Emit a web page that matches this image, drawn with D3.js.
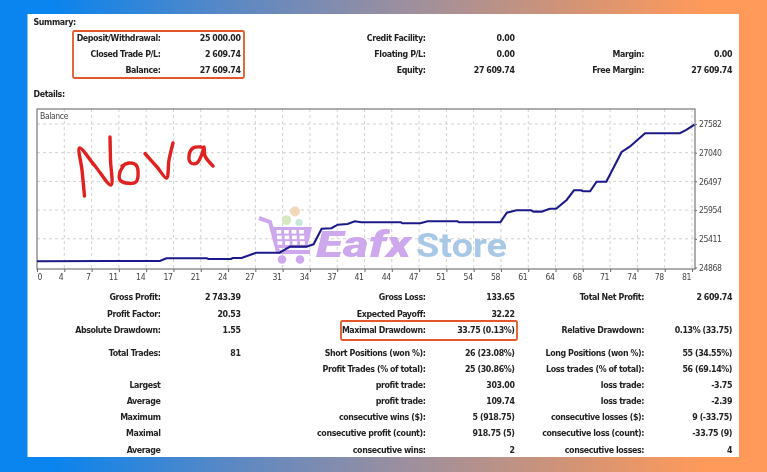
<!DOCTYPE html>
<html>
<head>
<meta charset="utf-8">
<script src="https://cdn.jsdelivr.net/npm/d3@7"></script>
<style>
  html, body { margin: 0; padding: 0; overflow: hidden; }
  body { width: 767px; height: 472px; background: linear-gradient(90deg, #0a84ee 7%, #5a88c4 30%, #9a8fa0 52%, #cc937a 72%, #ff9a5a 92%); }
  svg { display: block; filter: blur(0.35px); }
  text { font-family: "DejaVu Sans Condensed", "DejaVu Sans", sans-serif; fill: #222; }
  .stat { font-size: 8.8px; font-weight: bold; letter-spacing: -0.4px; dominant-baseline: central; }
  .tick-label { font-size: 8.6px; letter-spacing: -0.4px; fill: #444; }
</style>
</head>
<body>
<script>
// balance curve
var tradeNo = [0, 9, 15.2, 16, 21, 21.2, 24, 24.2, 25.3, 27.1, 30, 31.3, 33.3, 34.2, 35.2, 36.4, 37.2, 38.4, 39.3, 40.1, 45, 45.2, 47.4, 48.3, 52, 52.2, 57.3, 58.1, 59.3, 61.1, 61.4, 62.4, 63.4, 64.2, 65.5, 66.4, 67.3, 67.5, 68.4, 69.2, 70.4, 72.3, 73.3, 75.2, 79.5, 80.3, 81.3];
var balance = [24985, 24991, 24991, 25042, 25042, 25029, 25029, 25047, 25047, 25148, 25148, 25262, 25262, 25307, 25602, 25610, 25678, 25691, 25742, 25723, 25723, 25704, 25704, 25742, 25742, 25723, 25723, 25905, 25950, 25950, 25924, 25924, 25980, 25980, 26145, 26329, 26329, 26310, 26310, 26491, 26491, 27053, 27153, 27407, 27407, 27470, 27570];

var xTickLabels = ["0", "4", "7", "11", "14", "17", "21", "24", "27", "31", "34", "37", "41", "44", "47", "51", "54", "58", "61", "64", "68", "71", "74", "78", "81"];
var yTickValues = [24868, 25411, 25954, 26497, 27040, 27582];

var summaryRows = [
  ["Deposit/Withdrawal:", "25 000.00", "Credit Facility:", "0.00", "", ""],
  ["Closed Trade P/L:", "2 609.74", "Floating P/L:", "0.00", "Margin:", "0.00"],
  ["Balance:", "27 609.74", "Equity:", "27 609.74", "Free Margin:", "27 609.74"]
];
var summaryY = [38, 54, 70];

var detailRows = [
  ["Gross Profit:", "2 743.39", "Gross Loss:", "133.65", "Total Net Profit:", "2 609.74"],
  ["Profit Factor:", "20.53", "Expected Payoff:", "32.22", "", ""],
  ["Absolute Drawdown:", "1.55", "Maximal Drawdown:", "33.75 (0.13%)", "Relative Drawdown:", "0.13% (33.75)"],
  ["Total Trades:", "81", "Short Positions (won %):", "26 (23.08%)", "Long Positions (won %):", "55 (34.55%)"],
  ["", "", "Profit Trades (% of total):", "25 (30.86%)", "Loss trades (% of total):", "56 (69.14%)"],
  ["Largest", "", "profit trade:", "303.00", "loss trade:", "-3.75"],
  ["Average", "", "profit trade:", "109.74", "loss trade:", "-2.39"],
  ["Maximum", "", "consecutive wins ($):", "5 (918.75)", "consecutive losses ($):", "9 (-33.75)"],
  ["Maximal", "", "consecutive profit (count):", "918.75 (5)", "consecutive loss (count):", "-33.75 (9)"],
  ["Average", "", "consecutive wins:", "2", "consecutive losses:", "4"]
];
var detailY = [297.3, 313.7, 329.7, 353, 369.3, 385.3, 401.3, 417.3, 433.3, 449.7];

var columnRight = [160.5, 240.5, 425.5, 514.5, 644, 732];

// the handwritten "Nova" over the chart
var novaStrokes = [
  [[84.5, 196], [82, 170], [79.5, 148], [95, 166], [111, 185], [110.5, 160], [110, 137]],
  [[122, 166], [129, 163], [136, 165], [138, 176], [136, 182], [126, 183], [120, 180], [120, 172], [125, 164]],
  [[145, 153.5], [157, 167], [166.5, 178], [169, 160], [173, 143]],
  [[201, 147], [193, 148], [189, 156], [191, 163], [197, 163], [202, 154], [204, 147], [205, 156], [213, 166]]
];

var width = 767,
  height = 472;

var svg = d3
  .select("body")
  .append("svg")
  .attr("width", width)
  .attr("height", height);

// white report card
svg
  .append("rect")
  .attr("x", 27.5)
  .attr("y", 14)
  .attr("width", 711.5)
  .attr("height", 443)
  .attr("fill", "#fff");

var plot = { left: 37, right: 695, top: 109, bottom: 269 };

var x = d3.scaleLinear().domain([0, 81]).range([plot.left, 692]);
var xAxisScale = d3.scalePoint().domain(xTickLabels).range([plot.left, 692]);
var y = d3.scaleLinear().domain([24868, 27582]).range([267.5, 124]);

// grid
svg
  .append("g")
  .selectAll("line")
  .data(xTickLabels.slice(1))
  .enter()
  .append("line")
  .attr("x1", (d) => xAxisScale(d))
  .attr("x2", (d) => xAxisScale(d))
  .attr("y1", plot.top)
  .attr("y2", plot.bottom)
  .attr("stroke", "#d2d2d2")
  .attr("stroke-dasharray", "3,3");

svg
  .append("g")
  .selectAll("line")
  .data(yTickValues.slice(1))
  .enter()
  .append("line")
  .attr("x1", plot.left)
  .attr("x2", plot.right)
  .attr("y1", (d) => y(d))
  .attr("y2", (d) => y(d))
  .attr("stroke", "#d2d2d2")
  .attr("stroke-dasharray", "3,3");

// watermark logo
var logo = svg.append("g");
var purple = "#cda8ec";
logo.append("circle").attr("cx", 295).attr("cy", 211.5).attr("r", 5).attr("fill", "#f0d9b8");
logo.append("circle").attr("cx", 286.5).attr("cy", 220).attr("r", 4.8).attr("fill", "#d6e8c0");
logo.append("circle").attr("cx", 299).attr("cy", 222.5).attr("r", 3.6).attr("fill", "#c6e6da");
logo
  .append("path")
  .attr("d", d3.line()([[259, 218], [270, 222], [278, 252], [310, 252]]))
  .attr("fill", "none")
  .attr("stroke", purple)
  .attr("stroke-width", 4);
logo
  .append("path")
  .attr("d", d3.line()([[271, 227], [312, 227], [307, 248], [276, 248]]) + "Z")
  .attr("fill", purple);
// cart basket holes
d3.range(4).forEach(function (i) {
  d3.range(3).forEach(function (j) {
    logo
      .append("rect")
      .attr("x", 276.5 + i * 7.5 + j * 0.5)
      .attr("y", 230 + j * 5.6)
      .attr("width", 4.8)
      .attr("height", 3.6)
      .attr("fill", "#fff");
  });
});
logo.append("circle").attr("cx", 282).attr("cy", 259.5).attr("r", 4.3).attr("fill", purple);
logo.append("circle").attr("cx", 300).attr("cy", 259.5).attr("r", 4.3).attr("fill", purple);
logo
  .append("text")
  .attr("x", 316)
  .attr("y", 257)
  .style("font-family", "Roboto, sans-serif")
  .style("font-size", "36px")
  .style("font-weight", "900")
  .style("font-style", "italic")
  .style("fill", purple)
  .attr("textLength", 95)
  .attr("lengthAdjust", "spacingAndGlyphs")
  .text("Eafx");
logo
  .append("text")
  .attr("x", 416)
  .attr("y", 257)
  .style("font-family", "Roboto, sans-serif")
  .style("font-size", "34px")
  .style("font-weight", "700")
  .style("fill", "#a9c8e6")
  .attr("textLength", 91)
  .attr("lengthAdjust", "spacingAndGlyphs")
  .text("Store");

// plot frame
svg
  .append("rect")
  .attr("x", plot.left)
  .attr("y", plot.top)
  .attr("width", plot.right - plot.left)
  .attr("height", plot.bottom - plot.top)
  .attr("fill", "none")
  .attr("stroke", "#777")
  .attr("stroke-width", 1.2);

// axes
var xAxis = svg
  .append("g")
  .attr("transform", "translate(0," + plot.bottom + ")")
  .call(d3.axisBottom(xAxisScale).tickSize(3).tickPadding(1.5));
xAxis.select(".domain").remove();
xAxis.selectAll("line").attr("stroke", "#666");
xAxis
  .selectAll("text")
  .attr("class", "tick-label")
  .attr("font-family", null)
  .attr("font-size", null)
  .attr("fill", null)
  .attr("text-anchor", (d) => (d === "0" ? "start" : "end"))
  .attr("dx", (d) => (d === "0" ? 0 : -1.5));

var yAxis = svg
  .append("g")
  .attr("transform", "translate(" + plot.right + ",0)")
  .call(
    d3
      .axisRight(y)
      .tickValues(yTickValues)
      .tickFormat(d3.format("d"))
      .tickSize(2)
      .tickPadding(2)
  );
yAxis.select(".domain").remove();
yAxis.selectAll("line").attr("stroke", "#666");
yAxis
  .selectAll("text")
  .attr("class", "tick-label")
  .attr("font-family", null)
  .attr("font-size", null)
  .attr("fill", null);

svg
  .append("text")
  .attr("class", "tick-label")
  .attr("x", 40)
  .attr("y", 119)
  .text("Balance");

// balance line
var line = d3
  .line()
  .x((d, i) => x(tradeNo[i]))
  .y((d) => y(d));

svg
  .append("path")
  .datum(balance)
  .attr("d", line)
  .attr("fill", "none")
  .attr("stroke", "#1c1a8a")
  .attr("stroke-width", 2.1);

// handwriting
svg
  .append("g")
  .selectAll("path")
  .data(novaStrokes)
  .enter()
  .append("path")
  .attr("d", d3.line().curve(d3.curveCatmullRom.alpha(0.5)))
  .attr("fill", "none")
  .attr("stroke", "#e0211f")
  .attr("stroke-width", 3.4)
  .attr("stroke-linecap", "round")
  .attr("stroke-linejoin", "round");

// text tables
function drawRows(rows, rowY) {
  rows.forEach(function (row, r) {
    svg
      .append("g")
      .selectAll("text")
      .data(row)
      .enter()
      .append("text")
      .attr("class", "stat")
      .attr("x", (d, i) => columnRight[i])
      .attr("y", rowY[r])
      .attr("text-anchor", "end")
      .text((d) => d);
  });
}
drawRows(summaryRows, summaryY);
drawRows(detailRows, detailY);

svg.append("text").attr("class", "stat").attr("x", 33.5).attr("y", 22).text("Summary:");
svg.append("text").attr("class", "stat").attr("x", 33.5).attr("y", 93.5).text("Details:");

// orange highlight boxes
var boxes = svg.append("g").attr("fill", "none").attr("stroke", "#e4572a").attr("stroke-width", 1.8);
boxes.append("rect").attr("x", 73).attr("y", 31).attr("width", 171).attr("height", 47).attr("rx", 1.5);
boxes.append("rect").attr("x", 341).attr("y", 321).attr("width", 176).attr("height", 19).attr("rx", 1.5);
</script>
</body>
</html>
